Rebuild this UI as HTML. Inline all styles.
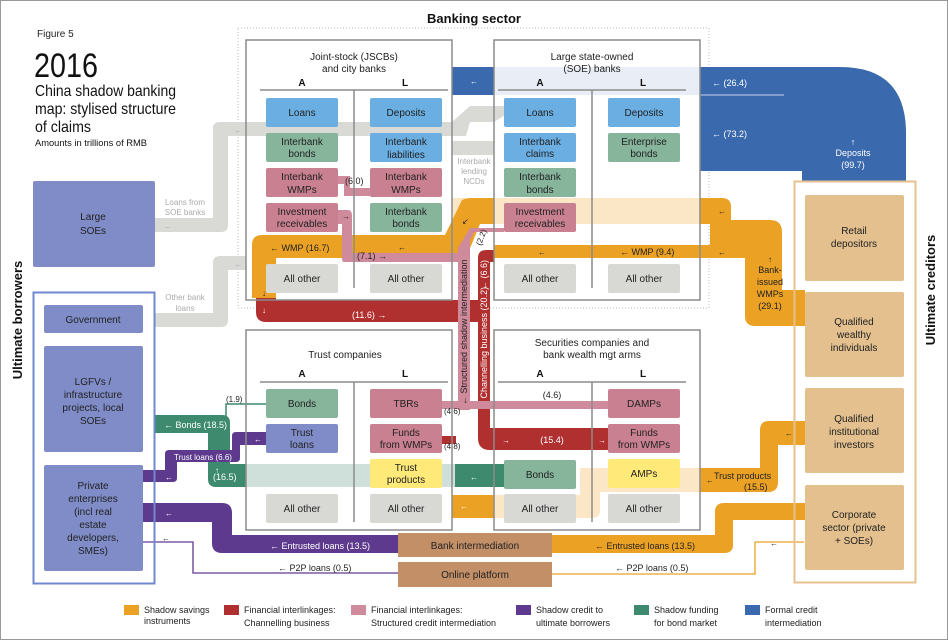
<!DOCTYPE html>
<html><head><meta charset="utf-8"><style>
html,body{margin:0;padding:0;background:#fff}
svg{display:block}
text{font-family:"Liberation Sans",sans-serif}
</style></head><body>
<svg width="948" height="640" viewBox="0 0 948 640" xmlns="http://www.w3.org/2000/svg">
<rect x="0.5" y="0.5" width="947" height="639" fill="#fff" stroke="#999"/>

<!-- Title -->
<text x="37" y="37" font-size="10" fill="#222">Figure 5</text>
<text x="34" y="77" font-size="34" fill="#111" textLength="64" lengthAdjust="spacingAndGlyphs">2016</text>
<text font-size="16" fill="#111"><tspan x="35" y="96" textLength="141" lengthAdjust="spacingAndGlyphs">China shadow banking</tspan><tspan x="35" y="114" textLength="141" lengthAdjust="spacingAndGlyphs">map: stylised structure</tspan><tspan x="35" y="132" textLength="56" lengthAdjust="spacingAndGlyphs">of claims</tspan></text>
<text x="35" y="146" font-size="9.5" fill="#111" textLength="112" lengthAdjust="spacingAndGlyphs">Amounts in trillions of RMB</text>

<text x="474" y="23" font-size="13" font-weight="bold" text-anchor="middle" fill="#111">Banking sector</text>
<rect x="238" y="28" width="471" height="280" fill="none" stroke="#bbb" stroke-dasharray="1,2"/>

<text transform="translate(22,320) rotate(-90)" font-size="13" font-weight="bold" text-anchor="middle" fill="#111">Ultimate borrowers</text>
<text transform="translate(935,290) rotate(-90)" font-size="13" font-weight="bold" text-anchor="middle" fill="#111">Ultimate creditors</text>

<!-- Blue formal credit -->
<path d="M452 67 H840 Q906 67 906 133 V181 H802 V171 H700 V95 H452 Z" fill="#3a69ae"/>
<rect x="494" y="67" width="206" height="28" fill="#e9edf5"/>
<line x1="700" y1="95" x2="784" y2="95" stroke="#c9d3e6" stroke-width="1"/>
<text x="470" y="84" font-size="8" fill="#fff">←</text>
<text x="712" y="86" font-size="9" fill="#fff">← (26.4)</text>
<text x="712" y="137" font-size="9" fill="#fff">← (73.2)</text>
<text x="853" y="145" font-size="9" fill="#fff" text-anchor="middle">↑</text>
<text x="853" y="156" font-size="9" fill="#fff" text-anchor="middle">Deposits</text>
<text x="853" y="168" font-size="9" fill="#fff" text-anchor="middle">(99.7)</text>

<!-- Gray flows -->
<path d="M510 112 L494 122 L470 122 Q470 122 466 136 H228 V225 Q228 232 221 232 H155 V218 H213 V128 Q213 122 220 122 H452 L470 106 H510 Z" fill="#d9d9d6"/>
<path d="M452 141 H494 V155 H452 Z" fill="#d9d9d6"/>
<path d="M246 256 V270 H228 V320 Q228 327 221 327 H155 V313 H213 V263 Q213 256 220 256 Z" fill="#d9d9d6"/>
<text x="185" y="205" font-size="8" fill="#aaa" text-anchor="middle">Loans from</text>
<text x="185" y="215" font-size="8" fill="#aaa" text-anchor="middle">SOE banks</text>
<text x="185" y="300" font-size="8" fill="#aaa" text-anchor="middle">Other bank</text>
<text x="185" y="311" font-size="8" fill="#aaa" text-anchor="middle">loans</text>
<text x="474" y="164" font-size="8" fill="#aaa" text-anchor="middle">Interbank</text>
<text x="474" y="174" font-size="8" fill="#aaa" text-anchor="middle">lending</text>
<text x="474" y="184" font-size="8" fill="#aaa" text-anchor="middle">NCDs</text>
<text x="164" y="229" font-size="8" fill="#aaa">←</text>
<text x="234" y="133" font-size="8" fill="#aaa">←</text>
<text x="234" y="267" font-size="8" fill="#aaa">←</text>

<!-- Orange light band across SOE -->
<rect x="452" y="198" width="260" height="26" fill="#fbe6c6"/>
<!-- Orange WMP 16.7 -->
<path d="M252 298 V245 Q252 235 262 235 H445 L462 200 Q466 198 472 198 H494 V224 H480 L466 258 H276 V298 Z" fill="#eba124"/>
<!-- right orange -->
<path d="M700 198 H722 Q731 198 731 207 V220 H770 Q782 220 782 232 V290 H805 V326 H755 Q745 326 745 316 V258 H494 V245 H710 V224 H700 Z" fill="#eba124"/>
<text x="718" y="214" font-size="8" fill="#222">←</text>
<text x="718" y="255" font-size="8" fill="#222">←</text>
<text x="538" y="255" font-size="8" fill="#222">←</text>
<text x="620" y="255" font-size="9" fill="#222">← WMP (9.4)</text>
<text x="270" y="251" font-size="9" fill="#222">← WMP (16.7)</text>
<text x="462" y="224" font-size="8" fill="#222">↙</text>
<text x="770" y="262" font-size="8" fill="#222" text-anchor="middle">↑</text>
<text x="770" y="273" font-size="9" fill="#222" text-anchor="middle">Bank-</text>
<text x="770" y="285" font-size="9" fill="#222" text-anchor="middle">issued</text>
<text x="770" y="297" font-size="9" fill="#222" text-anchor="middle">WMPs</text>
<text x="770" y="309" font-size="9" fill="#222" text-anchor="middle">(29.1)</text>

<!-- Red channelling -->
<path d="M256 298 H276 V300 H478 V258 Q478 250 486 250 H494 V262 H490 V428 H608 V450 H490 Q478 450 478 438 V322 H266 Q256 322 256 312 Z" fill="#b0302f"/>
<rect x="442" y="436" width="14" height="8" fill="#b0302f"/>
<text x="262" y="296" font-size="8" fill="#222">↓</text>
<text x="262" y="313" font-size="8" fill="#fff">↓</text>
<text x="352" y="318" font-size="9" fill="#fff">(11.6) →</text>
<text x="552" y="443" font-size="9" fill="#fff" text-anchor="middle">(15.4)</text>
<text x="502" y="443" font-size="8" fill="#fff">→</text>
<text x="598" y="443" font-size="8" fill="#fff">→</text>
<text transform="translate(487,410) rotate(-90)" font-size="9" fill="#fff">← Channelling business (20.2)</text>
<text transform="translate(487,290) rotate(-90)" font-size="9" fill="#fff">← (6.6)</text>

<!-- Pink structured -->
<path d="M338 210 H348 Q352 210 352 216 V253 H458 V248 L470 228 H504 V232 H474 L470 240 V410 H458 V262 H344 Q342 262 342 258 V224 H338 Z" fill="#cf8b9c"/>
<rect x="442" y="401" width="166" height="8" fill="#cf8b9c"/>
<path d="M338 176 H350 V188 H370 V196 H344 V184 H338 Z" fill="#cf8b9c"/>
<text transform="translate(467,405) rotate(-90)" font-size="9" fill="#222">← Structured shadow intermediation</text>
<text transform="translate(481,246) rotate(-70)" font-size="8" fill="#222">(2.2)</text>
<text x="345" y="184" font-size="9" fill="#222">(6.0)</text>
<text x="357" y="259" font-size="9" fill="#222">(7.1) →</text>
<text x="398" y="250" font-size="8" fill="#222">←</text>
<text x="342" y="219" font-size="8" fill="#222">→</text>
<text x="552" y="398" font-size="9" fill="#222" text-anchor="middle">(4.6)</text>
<text x="444" y="414" font-size="8" fill="#222">(4.6)</text>
<text x="444" y="449" font-size="8" fill="#222">(4.8)</text>

<!-- Green bond flows -->
<rect x="246" y="464" width="210" height="23" fill="#cfe0da"/>
<path d="M155 415 H222 Q230 415 230 423 V464 H246 V487 H216 Q208 487 208 479 V433 H155 Z" fill="#3d8a6e"/>
<rect x="455" y="464" width="50" height="23" fill="#3d8a6e"/>
<path d="M266 404 H226 V416" fill="none" stroke="#3d8a6e" stroke-width="1.5"/>
<text x="226" y="402" font-size="8" fill="#222">(1.9)</text>
<text x="164" y="428" font-size="9" fill="#fff">← Bonds (18.5)</text>
<text x="215" y="473" font-size="8" fill="#fff">↑</text>
<text x="213" y="480" font-size="9" fill="#fff">(16.5)</text>
<text x="470" y="480" font-size="8" fill="#fff">←</text>

<!-- Purple -->
<path d="M266 432 V445 H240 V458 Q240 462 236 462 H177 V478 Q177 482 173 482 H143 V470 H165 V454 Q165 450 169 450 H232 V436 Q232 432 236 432 Z" fill="#5e3a8e"/>
<text x="174" y="460" font-size="8" fill="#fff">Trust loans (6.6)</text>
<text x="165" y="480" font-size="8" fill="#fff">←</text>
<text x="254" y="442" font-size="8" fill="#fff">←</text>
<path d="M143 503 H222 Q232 503 232 513 V535 H398 V553 H222 Q212 553 212 543 V522 H143 Z" fill="#5e3a8e"/>
<text x="165" y="516" font-size="8" fill="#fff">←</text>
<text x="270" y="549" font-size="9" fill="#fff">← Entrusted loans (13.5)</text>
<path d="M143 542 H193 V573 H398" fill="none" stroke="#5e3a8e" stroke-width="1.3"/>
<text x="162" y="541" font-size="8" fill="#222">←</text>
<text x="278" y="571" font-size="9" fill="#222">← P2P loans (0.5)</text>

<!-- Orange lower -->
<path d="M580 468 H760 V430 Q760 421 769 421 H805 V445 H778 V482 Q778 492 768 492 H600 V510 Q600 518 592 518 H494 V495 H580 Z" fill="#fbe6c6"/>
<path d="M700 468 H760 V430 Q760 421 769 421 H805 V445 H778 V482 Q778 492 768 492 H700 Z" fill="#eba124"/>
<rect x="452" y="495" width="42" height="23" fill="#eba124"/>
<text x="460" y="509" font-size="8" fill="#fff">←</text>
<text x="785" y="436" font-size="8" fill="#222">←</text>
<text x="706" y="483" font-size="8" fill="#222">←</text>
<text x="714" y="479" font-size="9" fill="#222">Trust products</text>
<text x="744" y="490" font-size="9" fill="#222">(15.5)</text>
<path d="M552 535 H715 V512 Q715 503 724 503 H805 V520 H733 V545 Q733 553 724 553 H552 Z" fill="#eba124"/>
<text x="595" y="549" font-size="9" fill="#222">← Entrusted loans (13.5)</text>
<path d="M552 574 H755 V542 H804" fill="none" stroke="#eba124" stroke-width="1.3"/>
<text x="615" y="571" font-size="9" fill="#222">← P2P loans (0.5)</text>
<text x="770" y="546" font-size="8" fill="#222">←</text>

<!-- Bank boxes frames -->
<g fill="none" stroke="#8c8c8c" stroke-width="1.5">
<rect x="246" y="40" width="206" height="260"/>
<rect x="494" y="40" width="206" height="260"/>
<rect x="246" y="330" width="206" height="200"/>
<rect x="494" y="330" width="206" height="200"/>
</g>
<g stroke="#8c8c8c" stroke-width="1.5">
<line x1="260" y1="90" x2="448" y2="90"/><line x1="354" y1="90" x2="354" y2="288"/>
<line x1="498" y1="90" x2="686" y2="90"/><line x1="592" y1="90" x2="592" y2="288"/>
<line x1="260" y1="382" x2="448" y2="382"/><line x1="354" y1="382" x2="354" y2="522"/>
<line x1="498" y1="382" x2="686" y2="382"/><line x1="592" y1="382" x2="592" y2="522"/>
</g>
<g font-size="10" fill="#222" text-anchor="middle">
<text x="354" y="60">Joint-stock (JSCBs)</text><text x="354" y="72">and city banks</text>
<text x="592" y="60">Large state-owned</text><text x="592" y="72">(SOE) banks</text>
<text x="345" y="358">Trust companies</text>
<text x="592" y="346">Securities companies and</text><text x="592" y="358">bank wealth mgt arms</text>
</g>
<g font-size="10" font-weight="bold" fill="#111" text-anchor="middle">
<text x="302" y="86">A</text><text x="405" y="86">L</text>
<text x="540" y="86">A</text><text x="643" y="86">L</text>
<text x="302" y="377">A</text><text x="405" y="377">L</text>
<text x="540" y="377">A</text><text x="643" y="377">L</text>
</g>

<!-- asset/liability boxes -->
<g font-size="10" fill="#222" text-anchor="middle">
<rect x="266" y="98" width="72" height="29" rx="2" fill="#6aaee2"/><text x="302" y="116">Loans</text>
<rect x="370" y="98" width="72" height="29" rx="2" fill="#6aaee2"/><text x="406" y="116">Deposits</text>
<rect x="266" y="133" width="72" height="29" rx="2" fill="#86b59c"/><text x="302" y="145">Interbank</text><text x="302" y="157">bonds</text>
<rect x="370" y="133" width="72" height="29" rx="2" fill="#6aaee2"/><text x="406" y="145">Interbank</text><text x="406" y="158">liabilities</text>
<rect x="266" y="168" width="72" height="29" rx="2" fill="#c98090"/><text x="302" y="180">Interbank</text><text x="302" y="193">WMPs</text>
<rect x="370" y="168" width="72" height="29" rx="2" fill="#c98090"/><text x="406" y="180">Interbank</text><text x="406" y="193">WMPs</text>
<rect x="266" y="203" width="72" height="29" rx="2" fill="#c98090"/><text x="302" y="215">Investment</text><text x="302" y="227">receivables</text>
<rect x="370" y="203" width="72" height="29" rx="2" fill="#86b59c"/><text x="406" y="215">Interbank</text><text x="406" y="227">bonds</text>
<rect x="266" y="264" width="72" height="29" rx="2" fill="#d8d8d5"/><text x="302" y="282">All other</text>
<rect x="370" y="264" width="72" height="29" rx="2" fill="#d8d8d5"/><text x="406" y="282">All other</text>

<rect x="504" y="98" width="72" height="29" rx="2" fill="#6aaee2"/><text x="540" y="116">Loans</text>
<rect x="608" y="98" width="72" height="29" rx="2" fill="#6aaee2"/><text x="644" y="116">Deposits</text>
<rect x="504" y="133" width="72" height="29" rx="2" fill="#6aaee2"/><text x="540" y="145">Interbank</text><text x="540" y="157">claims</text>
<rect x="608" y="133" width="72" height="29" rx="2" fill="#86b59c"/><text x="644" y="145">Enterprise</text><text x="644" y="157">bonds</text>
<rect x="504" y="168" width="72" height="29" rx="2" fill="#86b59c"/><text x="540" y="180">Interbank</text><text x="540" y="193">bonds</text>
<rect x="504" y="203" width="72" height="29" rx="2" fill="#c98090"/><text x="540" y="215">Investment</text><text x="540" y="227">receivables</text>
<rect x="504" y="264" width="72" height="29" rx="2" fill="#d8d8d5"/><text x="540" y="282">All other</text>
<rect x="608" y="264" width="72" height="29" rx="2" fill="#d8d8d5"/><text x="644" y="282">All other</text>

<rect x="266" y="389" width="72" height="29" rx="2" fill="#86b59c"/><text x="302" y="407">Bonds</text>
<rect x="370" y="389" width="72" height="29" rx="2" fill="#c98090"/><text x="406" y="407">TBRs</text>
<rect x="266" y="424" width="72" height="29" rx="2" fill="#7f8cc7"/><text x="302" y="436">Trust</text><text x="302" y="448">loans</text>
<rect x="370" y="424" width="72" height="29" rx="2" fill="#c98090"/><text x="406" y="436">Funds</text><text x="406" y="448">from WMPs</text>
<rect x="370" y="459" width="72" height="29" rx="2" fill="#ffe979"/><text x="406" y="471">Trust</text><text x="406" y="483">products</text>
<rect x="266" y="494" width="72" height="29" rx="2" fill="#d8d8d5"/><text x="302" y="512">All other</text>
<rect x="370" y="494" width="72" height="29" rx="2" fill="#d8d8d5"/><text x="406" y="512">All other</text>

<rect x="608" y="389" width="72" height="29" rx="2" fill="#c98090"/><text x="644" y="407">DAMPs</text>
<rect x="608" y="424" width="72" height="29" rx="2" fill="#c98090"/><text x="644" y="436">Funds</text><text x="644" y="448">from WMPs</text>
<rect x="504" y="460" width="72" height="29" rx="2" fill="#86b59c"/><text x="540" y="478">Bonds</text>
<rect x="608" y="459" width="72" height="29" rx="2" fill="#ffe979"/><text x="644" y="477">AMPs</text>
<rect x="504" y="494" width="72" height="29" rx="2" fill="#d8d8d5"/><text x="540" y="512">All other</text>
<rect x="608" y="494" width="72" height="29" rx="2" fill="#d8d8d5"/><text x="644" y="512">All other</text>
</g>

<!-- Brown intermediaries -->
<rect x="398" y="533" width="154" height="24" fill="#c28f67"/>
<rect x="398" y="562" width="154" height="25" fill="#c28f67"/>
<text x="475" y="549" font-size="10" fill="#222" text-anchor="middle">Bank intermediation</text>
<text x="475" y="578" font-size="10" fill="#222" text-anchor="middle">Online platform</text>

<!-- Borrowers -->
<g font-size="10" fill="#222" text-anchor="middle">
<rect x="33" y="181" width="122" height="86" rx="2" fill="#7f8cc7"/><text x="93" y="220">Large</text><text x="93" y="234">SOEs</text>
<rect x="33.5" y="292.5" width="121" height="291" fill="none" stroke="#6f88d0" stroke-width="2"/>
<rect x="44" y="305" width="99" height="28" rx="2" fill="#7f8cc7"/><text x="93" y="323">Government</text>
<rect x="44" y="346" width="99" height="106" rx="2" fill="#7f8cc7"/><text x="93" y="385">LGFVs /</text><text x="93" y="398">infrastructure</text><text x="93" y="411">projects, local</text><text x="93" y="424">SOEs</text>
<rect x="44" y="465" width="99" height="106" rx="2" fill="#7f8cc7"/><text x="93" y="489">Private</text><text x="93" y="502">enterprises</text><text x="93" y="515">(incl real</text><text x="93" y="528">estate</text><text x="93" y="541">developers,</text><text x="93" y="554">SMEs)</text>
</g>

<!-- Creditors -->
<rect x="794.5" y="181.5" width="121" height="401" fill="none" stroke="#e6c190" stroke-width="2"/>
<g font-size="10" fill="#222" text-anchor="middle">
<rect x="805" y="195" width="99" height="86" rx="2" fill="#e3c08e"/><text x="854" y="234">Retail</text><text x="854" y="247">depositors</text>
<rect x="805" y="292" width="99" height="85" rx="2" fill="#e3c08e"/><text x="854" y="325">Qualified</text><text x="854" y="338">wealthy</text><text x="854" y="351">individuals</text>
<rect x="805" y="388" width="99" height="85" rx="2" fill="#e3c08e"/><text x="854" y="422">Qualified</text><text x="854" y="435">institutional</text><text x="854" y="448">investors</text>
<rect x="805" y="485" width="99" height="85" rx="2" fill="#e3c08e"/><text x="854" y="518">Corporate</text><text x="854" y="531">sector (private</text><text x="854" y="544">+ SOEs)</text>
</g>

<!-- Legend -->
<g font-size="9" fill="#222">
<rect x="124" y="605" width="15" height="10" fill="#eba124"/><text x="144" y="613">Shadow savings</text><text x="144" y="624">instruments</text>
<rect x="224" y="605" width="15" height="10" fill="#b0302f"/><text x="244" y="613">Financial interlinkages:</text><text x="244" y="626">Channelling business</text>
<rect x="351" y="605" width="15" height="10" fill="#cf8b9c"/><text x="371" y="613">Financial interlinkages:</text><text x="371" y="626">Structured credit intermediation</text>
<rect x="516" y="605" width="15" height="10" fill="#5e3a8e"/><text x="536" y="613">Shadow credit to</text><text x="536" y="626">ultimate borrowers</text>
<rect x="634" y="605" width="15" height="10" fill="#3d8a6e"/><text x="654" y="613">Shadow funding</text><text x="654" y="626">for bond market</text>
<rect x="745" y="605" width="15" height="10" fill="#3a69ae"/><text x="765" y="613">Formal credit</text><text x="765" y="626">intermediation</text>
</g>
</svg>
</body></html>
